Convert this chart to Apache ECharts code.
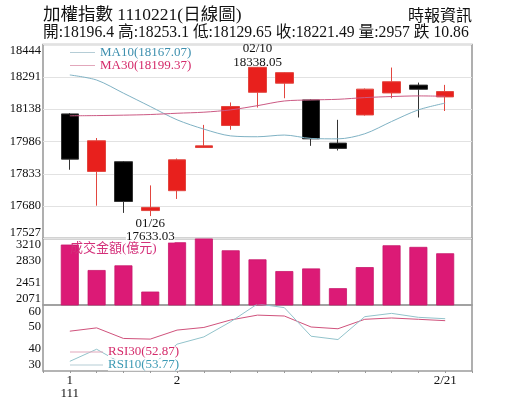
<!DOCTYPE html>
<html><head><meta charset="utf-8">
<script src="https://cdn.jsdelivr.net/npm/echarts@6/dist/echarts.min.js"></script>
<style>html,body{margin:0;padding:0;background:#fff}#c{width:515px;height:413px}</style>
</head><body><div id="c"></div>
<script>
// ---- data ----
const dates  = ['1/21','1/24','1/25','1/26','2/7','2/8','2/9','2/10','2/11','2/14','2/15','2/16','2/17','2/18','2/21'];
const openP  = [18116, 17844, 17890, 17659, 17753, 17957, 18061, 18218, 18261, 18182, 17978, 18111, 18215, 18252, 18196.4];
const closeP = [17902, 17989, 17702, 17674, 17899, 17965, 18151, 18336, 18311, 17998, 17953, 18233, 18268, 18232.35, 18221.49];
const lowP   = [17852, 17682, 17648, 17633.03, 17714, 17955, 18041, 18146, 18190, 17965, 17943, 18108, 18190, 18099, 18129.65];
const highP  = [18120, 18002, 17893, 17778, 17905, 18064, 18170, 18338.05, 18313, 18185, 18088, 18236, 18335, 18264, 18253.1];
const ma10   = [18300, 18276, 18214, 18151, 18088, 18044, 18012, 18008, 18016, 18000, 17998, 18022, 18080, 18135, 18167.07];
const ma30   = [18107, 18108, 18110, 18113, 18119, 18124, 18135, 18155, 18177, 18182, 18185, 18193, 18198, 18201, 18199.37];
const volume = [3106, 2670, 2750, 2301, 3146, 3210, 3008, 2853, 2652, 2697, 2359, 2720, 3094, 3066, 2957];
const rsi30  = [48.1, 49.6, 44.8, 44.5, 48.6, 49.8, 53.2, 55.4, 55.0, 50.0, 49.2, 53.5, 54.1, 53.5, 52.87];
const rsi10  = [34.4, 39.9, 33.0, 32.0, 42.2, 45.5, 52.4, 60.5, 58.8, 45.8, 44.3, 54.7, 56.2, 54.4, 53.77];
const xTickIdx  = [0, 4, 14];
const xTickText = ['1\n111', '2', '2/21'];
const priceMin = 17527, priceMax = 18444;
const volMin = 2071, volMax = 3210;
const rsiMin = 30, rsiMax = 60;
const lowIdx = 3, highIdx = 7;
const lowLabel = '01/26', highLabel = '02/10';

const FONT = '"Liberation Serif", "Noto Sans CJK TC", serif';
const pairs = arr => arr.map((v, i) => [i, v]);

const candleData = dates.map((d, i) => [i, openP[i], closeP[i], lowP[i], highP[i]]);

const xBase = (gi, showLabels) => ({
  type: 'value', gridIndex: gi, min: -1, max: dates.length, interval: 1,
  axisLine: { show: false },
  splitLine: { show: false },
  axisTick: { show: showLabels, length: 2, lineStyle: { color: '#999' } },
  axisLabel: {
    show: showLabels, margin: 3, fontFamily: FONT, fontSize: 13, color: '#111', lineHeight: 13,
    formatter: v => { const k = xTickIdx.indexOf(Math.round(v)); return k >= 0 ? xTickText[k] : ''; }
  }
});

// min label nudged up, max label nudged down so they stay inside the panel
const yLabel = (mn, mx) => ({
  fontFamily: FONT, fontSize: 12.5, color: '#111', margin: 2,
  formatter: v => {
    const s = String(Math.round(v + 1e-6));
    if (Math.abs(v - mx) < 1e-6) return '{mx|' + s + '}';
    if (Math.abs(v - mn) < 1e-6) return '{mn|' + s + '}';
    return s;
  },
  rich: {
    mx: { fontFamily: FONT, fontSize: 12.5, color: '#111', padding: [13, 0, 0, 0] },
    mn: { fontFamily: FONT, fontSize: 12.5, color: '#111', padding: [0, 0, 12, 0] }
  }
});

const chart = echarts.init(document.getElementById('c'), null, { renderer: 'canvas' });
chart.setOption({
  animation: false,
  backgroundColor: '#fff',
  title: [
    { text: '加權指數 1110221(日線圖)', left: 43, top: 7, padding: 0, textStyle: { fontFamily: FONT, fontSize: 17.5, fontWeight: 'normal', color: '#111' } },
    { text: '時報資訊', right: 43, top: 9, padding: 0, textStyle: { fontFamily: FONT, fontSize: 16, fontWeight: 'normal', color: '#111' } },
    { text: '開:' + openP[14] + ' 高:' + highP[14] + ' 低:' + lowP[14] + ' 收:' + closeP[14] + ' 量:' + volume[14] + ' 跌 ' + (closeP[13] - closeP[14]).toFixed(2),
      left: 43, top: 25, padding: 0, textStyle: { fontFamily: FONT, fontSize: 15.7, fontWeight: 'normal', color: '#111' } },
    { text: '成交金額(億元)', left: 70, top: 241, padding: 0, textStyle: { fontFamily: FONT, fontSize: 13, fontWeight: 'normal', color: '#d4307a', backgroundColor: '#fff', lineHeight: 16 } }
  ],
  legend: [
    { orient: 'vertical', left: 70, top: 46, padding: 0, itemWidth: 25, itemHeight: 1, itemGap: 0, icon: 'rect',
      textStyle: { fontFamily: FONT, fontSize: 13, lineHeight: 12.6 },
      data: [
        { name: 'MA10(18167.07)', itemStyle: { color: '#b5cdd6' }, textStyle: { color: '#3d8fae' } },
        { name: 'MA30(18199.37)', itemStyle: { color: '#e2a7bb' }, textStyle: { color: '#d42a6a' } }
      ] },
    { orient: 'vertical', left: 70, top: 345.5, padding: 0, itemWidth: 33, itemHeight: 1, itemGap: 0, icon: 'rect',
      textStyle: { fontFamily: FONT, fontSize: 13, lineHeight: 11.6, backgroundColor: '#fff' },
      data: [
        { name: 'RSI30(52.87)', itemStyle: { color: '#e2a7bb' }, textStyle: { color: '#d42a6a' } },
        { name: 'RSI10(53.77)', itemStyle: { color: '#b5cdd6' }, textStyle: { color: '#3d9ab4' } }
      ] }
  ],
  grid: [
    { left: 43, right: 43, top: 44.5, height: 194, show: true, borderColor: '#9c9c9c', borderWidth: 1.6 },
    { left: 43, right: 43, top: 238.5, height: 66.5, show: true, borderColor: '#9c9c9c', borderWidth: 1.6 },
    { left: 43, right: 43, top: 305, height: 66, show: true, borderColor: '#9c9c9c', borderWidth: 1.6 }
  ],
  xAxis: [xBase(0, false), xBase(1, false), xBase(2, true)],
  yAxis: [
    { type: 'value', gridIndex: 0, min: priceMin, max: priceMax, interval: (priceMax - priceMin) / 6,
      axisLine: { show: false }, axisTick: { show: false },
      splitLine: { show: true, lineStyle: { color: '#e2e2e2', width: 1 } },
      axisLabel: yLabel(priceMin, priceMax) },
    { type: 'value', gridIndex: 1, min: volMin, max: volMax, interval: (volMax - volMin) / 3,
      axisLine: { show: false }, axisTick: { show: false }, splitLine: { show: false },
      axisLabel: yLabel(volMin, volMax) },
    { type: 'value', gridIndex: 2, min: rsiMin, max: rsiMax, interval: 10,
      axisLine: { show: false }, axisTick: { show: false }, splitLine: { show: false },
      axisLabel: yLabel(rsiMin, rsiMax) }
  ],
  series: [
    { type: 'candlestick', name: 'K', xAxisIndex: 0, yAxisIndex: 0, barWidth: 18,
      encode: { x: 0, y: [1, 2, 3, 4] },
      data: candleData,
      itemStyle: { color: '#e8201d', color0: '#000000', borderColor: '#e2463f', borderColor0: '#333333', borderWidth: 1 },
      markPoint: {
        symbol: 'rect', symbolSize: 1, itemStyle: { color: 'rgba(0,0,0,0)' },
        label: { fontFamily: FONT, fontSize: 13, color: '#111' },
        data: [
          { coord: [highIdx, highP[highIdx]], value: highP[highIdx],
            label: { position: 'top', distance: -3, lineHeight: 14, formatter: highLabel + '\n' + highP[highIdx].toFixed(2) } },
          { coord: [lowIdx, lowP[lowIdx]], value: lowP[lowIdx],
            label: { position: 'bottom', distance: 1, lineHeight: 12.5, backgroundColor: '#fff', formatter: lowLabel + '\n' + lowP[lowIdx].toFixed(2) } }
        ]
      } },
    { type: 'line', name: 'MA10(18167.07)', xAxisIndex: 0, yAxisIndex: 0, data: pairs(ma10), smooth: 0.3,
      showSymbol: false, symbol: 'none', lineStyle: { color: '#7fb2c4', width: 1 }, itemStyle: { color: '#7fb2c4' } },
    { type: 'line', name: 'MA30(18199.37)', xAxisIndex: 0, yAxisIndex: 0, data: pairs(ma30), smooth: 0.3,
      showSymbol: false, symbol: 'none', lineStyle: { color: '#cc5a84', width: 1 }, itemStyle: { color: '#cc5a84' } },
    { type: 'bar', name: 'VOL', xAxisIndex: 1, yAxisIndex: 1, data: pairs(volume), barWidth: 18,
      itemStyle: { color: '#dc1a76', borderColor: '#c8186c', borderWidth: 0.8 } },
    { type: 'line', name: 'RSI30(52.87)', xAxisIndex: 2, yAxisIndex: 2, data: pairs(rsi30),
      showSymbol: false, symbol: 'none', lineStyle: { color: '#d0527c', width: 1 }, itemStyle: { color: '#d0527c' } },
    { type: 'line', name: 'RSI10(53.77)', xAxisIndex: 2, yAxisIndex: 2, data: pairs(rsi10),
      showSymbol: false, symbol: 'none', lineStyle: { color: '#92c3cb', width: 1 }, itemStyle: { color: '#92c3cb' } }
  ]
});
</script>
</body></html>
